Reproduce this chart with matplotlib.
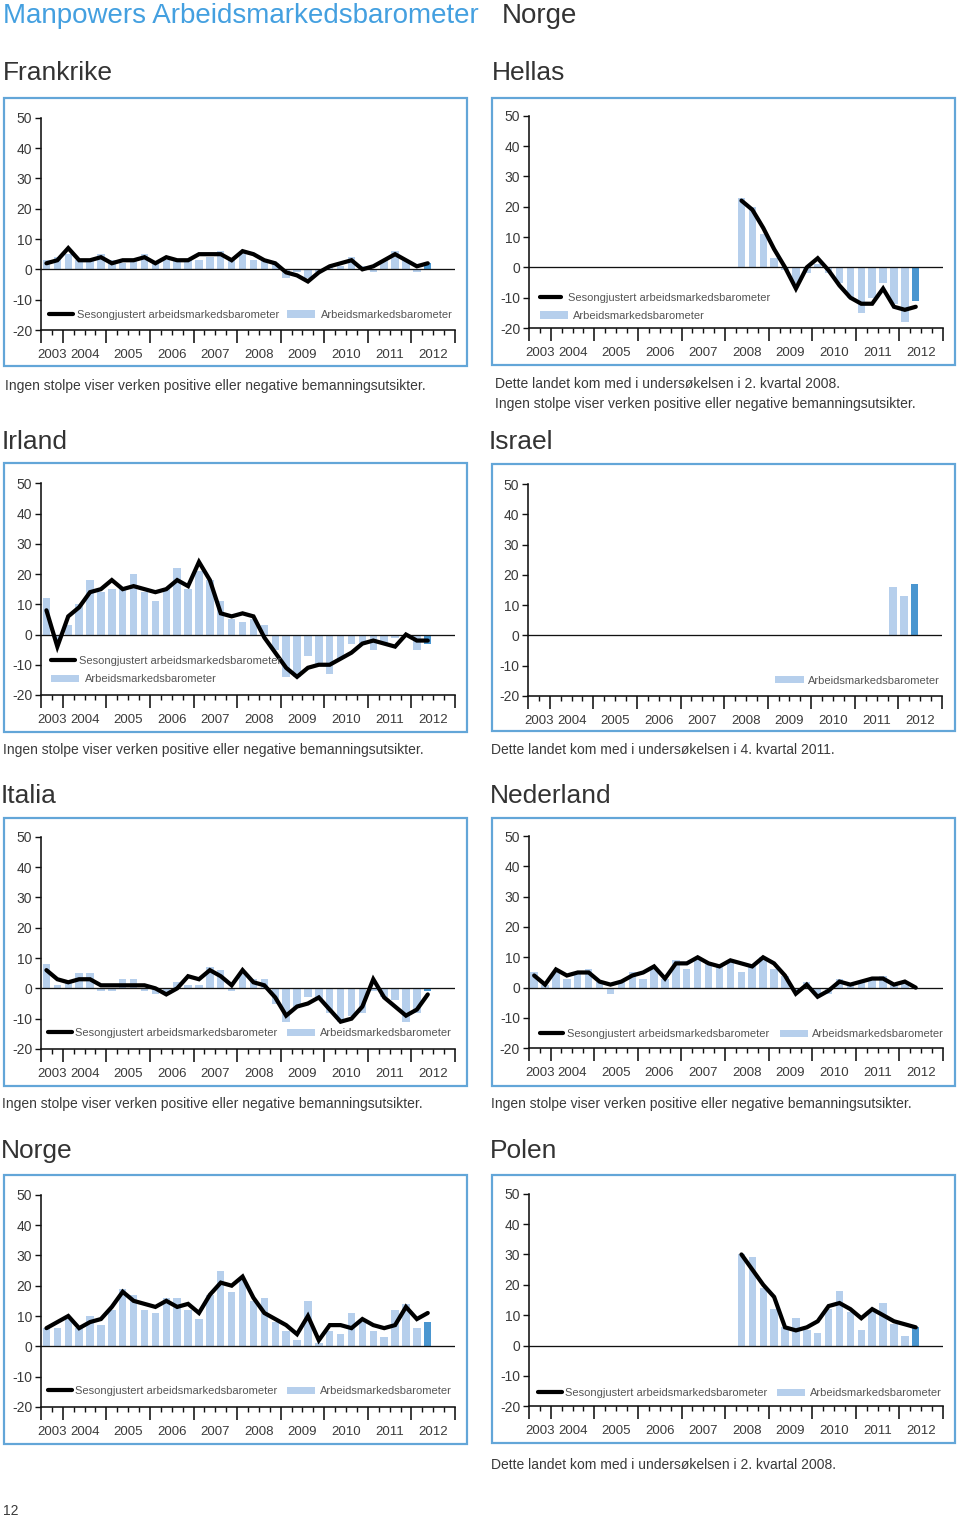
import matplotlib
matplotlib.use('Agg')
import matplotlib.pyplot as plt
import numpy as np
from matplotlib.patches import Rectangle
from matplotlib.lines import Line2D

plt.rcParams['font.family'] = ['Liberation Sans', 'DejaVu Sans']

W, H = 960, 1517
DPI = 100
PT = 72.0 / DPI  # points per pixel

# ---------------- data ----------------
years = [str(y) for y in range(2003, 2013)]
# observed quarters 2003 K3 .. 2012 K2 (36 quarters); axis runs to 2012 K4
quarters = [f'{y} K{q}' for y in range(2003, 2013) for q in range(1, 5)][2:38]
N = None

frankrike_bar = [3, 4, 5, 3, 3, 5, 3, 2, 3, 5, 2, 3, 3, 3, 3, 4, 6, 3, 6, 3, 3, 2, -3, -1, -3, -1, 1, 1, 4, 1, -1, 3, 6, 3, -1, 2]
frankrike_line = [2, 3, 7, 3, 3, 4, 2, 3, 3, 4, 2, 4, 3, 3, 5, 5, 5, 3, 6, 5, 3, 2, -1, -2, -4, -1, 1, 2, 3, 0, 1, 3, 5, 3, 1, 2]

hellas_bar = [N] * 19 + [23, 20, 11, 3, -1, -5, -2, 1, -2, -5, -10, -15, -10, -5, -12, -18, -11]
hellas_line = [N] * 19 + [22, 19, 13, 6, 0, -7, 0, 3, -1, -6, -10, -12, -12, -7, -13, -14, -13]

irland_bar = [12, -2, 3, 10, 18, 14, 15, 15, 20, 14, 11, 15, 22, 15, 21, 18, 11, 5, 4, 5, 3, -5, -14, -14, -7, -10, -13, -8, -3, -3, -5, -3, -1, 0, -5, -3]
irland_line = [8, -4, 6, 9, 14, 15, 18, 15, 16, 15, 14, 15, 18, 16, 24, 18, 7, 6, 7, 6, -1, -6, -11, -14, -11, -10, -10, -8, -6, -3, -2, -3, -4, 0, -2, -2]

israel_bar = [N] * 33 + [16, 13, 17]

italia_bar = [8, 1, 2, 5, 5, -1, -1, 3, 3, -1, -2, -2, 2, 1, 1, 7, 6, -1, 5, 3, 3, -5, -11, -6, -3, -4, -8, -11, -9, -8, -1, -3, -4, -11, -8, -1]
italia_line = [6, 3, 2, 3, 3, 1, 1, 1, 1, 1, 0, -2, 0, 4, 3, 6, 4, 1, 6, 2, 1, -3, -9, -6, -5, -3, -7, -11, -10, -6, 3, -3, -6, -9, -7, -2]

nederland_bar = [5, 1, 5, 3, 5, 6, 2, -2, 2, 5, 3, 6, 3, 9, 6, 10, 8, 7, 9, 5, 7, 10, 6, 4, -1, 2, -2, -2, 3, 1, 2, 3, 4, 1, 2, 0]
nederland_line = [4, 1, 6, 4, 5, 5, 2, 1, 2, 4, 5, 7, 3, 8, 8, 10, 8, 7, 9, 8, 7, 10, 8, 4, -2, 1, -3, -1, 2, 1, 2, 3, 3, 1, 2, 0]

norge_bar = [6, 6, 9, 6, 10, 7, 12, 19, 17, 12, 11, 16, 16, 12, 9, 17, 25, 18, 22, 15, 16, 8, 5, 2, 15, 1, 5, 4, 11, 8, 5, 3, 12, 14, 6, 8]
norge_line = [6, 8, 10, 6, 8, 9, 13, 18, 15, 14, 13, 15, 13, 14, 11, 17, 21, 20, 23, 16, 11, 9, 7, 4, 10, 2, 7, 7, 6, 9, 7, 6, 7, 13, 9, 11]

polen_bar = [N] * 19 + [30, 29, 19, 12, 6, 9, 5, 4, 12, 18, 11, 5, 11, 14, 7, 3, 6]
polen_line = [N] * 19 + [30, 25, 20, 16, 6, 5, 6, 8, 13, 14, 12, 9, 12, 10, 8, 7, 6]

yticks = [50, 40, 30, 20, 10, 0, -10, -20]

LINE_LABEL = 'Sesongjustert arbeidsmarkedsbarometer'
BAR_LABEL = 'Arbeidsmarkedsbarometer'
NOTE_NONE = 'Ingen stolpe viser verken positive eller negative bemanningsutsikter.'

# ---------------- styles ----------------
LIGHT = '#b6cfec'
DARK = '#4a96d0'
FRAME = '#63a6d8'
TXT = '#3a3a3a'
LEG = '#555555'
TITLE_BLUE = '#44a0e0'

fig = plt.figure(figsize=(W / DPI, H / DPI), dpi=DPI)
fig.patch.set_facecolor('white')


def fx(x):
    return x / W


def fy(y):
    return 1 - y / H


def ftext(x, y, s, **kw):
    fig.text(fx(x), fy(y), s, **kw)


def panel(title, title_pos, frame, axbox, bars, line, legend, notes):
    l, t, r, b = frame
    fig.add_artist(Rectangle((fx(l), fy(b)), (r - l) / W, (b - t) / H,
                             transform=fig.transFigure, facecolor='none',
                             edgecolor=FRAME, linewidth=2.2 * PT))
    ftext(title_pos[0], title_pos[1], title, fontsize=19, color='#333333',
          va='baseline', ha='left')
    al, at, ar, ab = axbox
    ax = fig.add_axes([fx(al), fy(ab), (ar - al) / W, (ab - at) / H])
    ax.set_xlim(0, 38)
    ax.set_ylim(-20, 50)
    for s in ['top', 'right']:
        ax.spines[s].set_visible(False)
    for s in ['left', 'bottom']:
        ax.spines[s].set_linewidth(1.6 * PT)
        ax.spines[s].set_color('#111111')
    ax.patch.set_alpha(0)

    xs = np.arange(len(quarters)) + 0.5
    if bars is not None:
        bx = [x for x, v in zip(xs, bars) if v is not None]
        bv = [v for v in bars if v is not None]
        cols = [LIGHT] * (len(bv) - 1) + [DARK]
        ax.bar(bx, bv, width=0.68, color=cols, zorder=2)
    ax.axhline(0, color='#111111', linewidth=1.3 * PT, zorder=3)
    if line is not None:
        lv = np.array([np.nan if v is None else v for v in line], dtype=float)
        ax.plot(xs, lv, color='black', linewidth=4.2 * PT, zorder=4,
                solid_joinstyle='miter', solid_capstyle='round')

    bounds = [0] + list(range(2, 39, 4))
    ax.set_xticks(bounds)
    ax.set_xticklabels([])
    ax.set_xticks(np.arange(0, 39), minor=True)
    ax.tick_params(axis='x', which='major', length=13 * PT, width=1.6 * PT,
                   direction='out', color='#111111')
    ax.tick_params(axis='x', which='minor', length=5 * PT, width=1.4 * PT,
                   direction='out', color='#111111')
    ax.set_yticks(yticks)
    ax.set_yticklabels([str(v) for v in yticks])
    ax.tick_params(axis='y', length=6 * PT, width=1.4 * PT, pad=2,
                   labelsize=10, labelcolor=TXT, color='#111111')
    for i, yr in enumerate(years):
        c = (bounds[i] + bounds[i + 1]) / 2
        ax.annotate(yr, xy=(c, 0), xycoords=('data', 'axes fraction'),
                    xytext=(0, -28 * PT), textcoords='offset points',
                    ha='center', va='baseline', fontsize=9.5, color=TXT)

    for kind, x0, x1, y, tx in legend:
        if kind == 'line':
            fig.add_artist(Line2D([fx(x0), fx(x1)], [fy(y), fy(y)],
                                  transform=fig.transFigure, color='black',
                                  linewidth=4.2 * PT, solid_capstyle='round'))
            lab = LINE_LABEL
        else:
            fig.add_artist(Rectangle((fx(x0), fy(y + 3.5)), (x1 - x0) / W, 7 / H,
                                     transform=fig.transFigure,
                                     facecolor=LIGHT, edgecolor='none'))
            lab = BAR_LABEL
        ftext(tx, y + 4, lab, fontsize=8, color=LEG, va='baseline', ha='left')

    for x, y, s in notes:
        ftext(x, y, s, fontsize=10, color=TXT, va='baseline', ha='left')
    return ax


# header
ftext(3, 23, 'Manpowers Arbeidsmarkedsbarometer', fontsize=20, color=TITLE_BLUE,
      va='baseline', ha='left')
ftext(502, 23, 'Norge', fontsize=20, color='#333333', va='baseline', ha='left')

panel('Frankrike', (3, 80), (4, 98, 467, 366), (41, 117.7, 455, 330),
      frankrike_bar, frankrike_line,
      [('line', 49, 73, 314, 77), ('bar', 287, 315, 314, 321)],
      [(5, 390, NOTE_NONE)])

panel('Hellas', (492, 80), (492, 98, 955, 365), (529, 115.7, 943, 328),
      hellas_bar, hellas_line,
      [('line', 540, 561, 297, 568), ('bar', 540, 568, 315, 573)],
      [(495, 388, 'Dette landet kom med i undersøkelsen i 2. kvartal 2008.'),
       (495, 408, NOTE_NONE)])

panel('Irland', (2, 449), (4, 463, 467, 732), (41, 483.3, 455, 695),
      irland_bar, irland_line,
      [('line', 51, 75, 660, 79), ('bar', 51, 79, 678, 85)],
      [(3, 754, NOTE_NONE)])

panel('Israel', (489, 449), (492, 464, 955, 731), (528, 484, 942, 696),
      israel_bar, None,
      [('bar', 775, 804, 680, 808)],
      [(491, 754, 'Dette landet kom med i undersøkelsen i 4. kvartal 2011.')])

panel('Italia', (1, 803), (4, 818, 467, 1086), (41, 836.7, 455, 1049),
      italia_bar, italia_line,
      [('line', 48, 72, 1032, 75), ('bar', 287, 315, 1032, 320)],
      [(2, 1108, NOTE_NONE)])

panel('Nederland', (490, 803), (492, 818, 955, 1086), (528.7, 836, 943, 1048.3),
      nederland_bar, nederland_line,
      [('line', 540, 563, 1033, 567), ('bar', 780, 808, 1033, 812)],
      [(491, 1108, NOTE_NONE)])

panel('Norge', (1, 1158), (4, 1175, 467, 1444), (41, 1194.7, 455, 1407),
      norge_bar, norge_line,
      [('line', 48, 72, 1390, 75), ('bar', 287, 315, 1390, 320)],
      [])

panel('Polen', (490, 1158), (492, 1175, 955, 1443), (529, 1193.7, 943, 1406.3),
      polen_bar, polen_line,
      [('line', 538, 562, 1392, 565), ('bar', 777, 805, 1392, 810)],
      [(491, 1469, 'Dette landet kom med i undersøkelsen i 2. kvartal 2008.')])

ftext(3, 1515, '12', fontsize=10, color=TXT, va='baseline', ha='left')

fig.savefig('out.png', dpi=DPI, facecolor='white')
